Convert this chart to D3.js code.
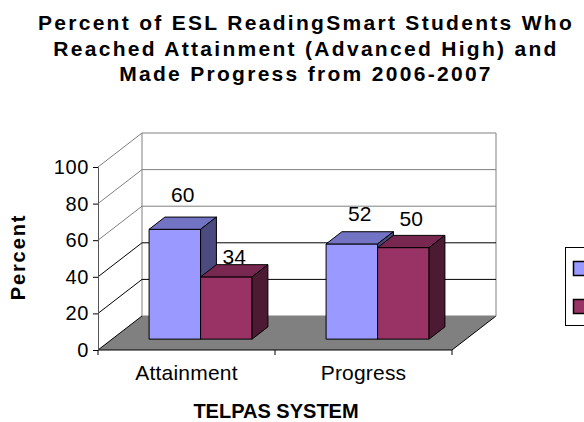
<!DOCTYPE html>
<html lang="en">
<head>
    <meta charset="UTF-8">
    <title>ESL ReadingSmart chart</title>
    <script src="https://d3js.org/d3.v7.min.js"></script>
    <style>
        body { margin: 0; background: #fff; }
        text { font-family: "Liberation Sans", Arial, sans-serif; fill: #000; }
    </style>
</head>
<body>
<div id="chart"></div>
<script>

// data
var categories = ["Attainment", "Progress"];
var seriesNames = ["2006", "2007"];
var blueValues = [60, 52];
var maroonValues = [34, 50];
var yTicks = [0, 20, 40, 60, 80, 100];
var titleLines = [
    "Percent of ESL ReadingSmart Students  Who",
    "Reached Attainment (Advanced High) and",
    "Made Progress from 2006-2007"
];

var width = 584, height = 422;
var depthX = 44, depthY = -34;           // wall depth of the 3d box
var barFront = 0.32, barBack = 0.68;     // where the bars sit in the depth

var svg = d3.select("#chart")
  .append("svg")
    .attr("width", width)
    .attr("height", height);

var y = d3.scaleLinear().domain([0, 100]).range([350, 167]);
var x = d3.scaleBand().domain(categories).range([98, 452]);
var sub = d3.scaleBand().domain([0, 1]).range([37, 140]);

function pt(xf, v, d) {
    return [xf + d * depthX, y(v) + d * depthY];
}
function poly(points) {
    return points.map(function(p) { return p.join(","); }).join(" ");
}

var x0 = x.range()[0], x1 = x.range()[1];

// floor
svg.append("polygon")
    .attr("points", poly([pt(x0, 0, 0), pt(x1, 0, 0), pt(x1, 0, 1), pt(x0, 0, 1)]))
    .attr("fill", "#808080");
svg.append("polyline")
    .attr("points", poly([pt(x0, 0, 0), pt(x1, 0, 0), pt(x1, 0, 1)]))
    .attr("fill", "none").attr("stroke", "#000");

// left wall + back wall outlines
svg.append("polyline")
    .attr("points", poly([pt(x0, 0, 1), pt(x0, 100, 1), pt(x0, 100, 0)]))
    .attr("fill", "none").attr("stroke", "#808080");
svg.append("polyline")
    .attr("points", poly([pt(x0, 100, 1), pt(x1, 100, 1), pt(x1, 0, 1), pt(x0, 0, 1)]))
    .attr("fill", "none").attr("stroke", "#808080");

// gridlines on both walls
var grid = svg.append("g");
yTicks.filter(function(v) { return v > 0 && v < 100; }).forEach(function(v) {
    grid.append("polyline")
        .attr("points", poly([pt(x0, v, 0), pt(x0, v, 1), pt(x1, v, 1)]))
        .attr("fill", "none")
        .attr("stroke", v >= 60 ? "#808080" : "#000");
});
svg.append("line")
    .attr("x1", pt(x0, 0, 0)[0]).attr("y1", pt(x0, 0, 0)[1])
    .attr("x2", pt(x0, 0, 1)[0]).attr("y2", pt(x0, 0, 1)[1])
    .attr("stroke", "#000");

// value axis
var yAxis = svg.append("g")
    .attr("transform", "translate(" + x0 + ",0)")
    .call(d3.axisLeft(y).tickValues(yTicks).tickSize(5).tickPadding(4));
yAxis.select(".domain").attr("stroke", "#555");
yAxis.selectAll(".tick line").attr("stroke", "#000");
yAxis.selectAll("text")
    .style("font-family", "'Liberation Sans', Arial, sans-serif")
    .style("font-size", "20px")
    .style("letter-spacing", "0.6px")
    .attr("fill", "#000");

// category axis ticks + labels
var catTicks = categories.map(function(c) { return x(c); }).concat([x1]);
svg.selectAll(".cattick")
    .data(catTicks)
  .enter().append("line")
    .attr("x1", function(d) { return d; })
    .attr("x2", function(d) { return d; })
    .attr("y1", y(0))
    .attr("y2", y(0) + 5)
    .attr("stroke", "#000");
svg.selectAll(".catlabel")
    .data(categories)
  .enter().append("text")
    .attr("x", function(d) { return x(d) + x.bandwidth() / 2; })
    .attr("y", 380)
    .attr("text-anchor", "middle")
    .style("font-size", "21px")
    .style("letter-spacing", "0.2px")
    .text(function(d) { return d; });

// bars
var series = [
    { values: blueValues, front: "#9999FF", top: "#7373C4", side: "#4B4B80" },
    { values: maroonValues, front: "#993366", top: "#782850", side: "#4C1A33" }
];
var bars = [];
categories.forEach(function(c, ci) {
    series.forEach(function(s, si) {
        bars.push({ cat: c, s: si, value: s.values[ci], col: s,
                    xa: x(c) + sub(si), xb: x(c) + sub(si) + sub.bandwidth() });
    });
});

var barG = svg.selectAll(".bar")
    .data(bars)
  .enter().append("g").attr("class", "bar");

barG.append("polygon")
    .attr("points", function(d) {
        return poly([pt(d.xa, 0, barFront), pt(d.xb, 0, barFront), pt(d.xb, d.value, barFront), pt(d.xa, d.value, barFront)]);
    })
    .attr("fill", function(d) { return d.col.front; })
    .attr("stroke", "#000").attr("stroke-linejoin", "round");
barG.append("polygon")
    .attr("points", function(d) {
        return poly([pt(d.xa, d.value, barFront), pt(d.xb, d.value, barFront), pt(d.xb, d.value, barBack), pt(d.xa, d.value, barBack)]);
    })
    .attr("fill", function(d) { return d.col.top; })
    .attr("stroke", "#000").attr("stroke-linejoin", "round");
barG.append("polygon")
    .attr("points", function(d) {
        return poly([pt(d.xb, 0, barFront), pt(d.xb, 0, barBack), pt(d.xb, d.value, barBack), pt(d.xb, d.value, barFront)]);
    })
    .attr("fill", function(d) { return d.col.side; })
    .attr("stroke", "#000").attr("stroke-linejoin", "round");

// value labels (excel's 3d labels drift upward with the value)
barG.append("text")
    .attr("x", function(d) { return (d.xa + d.xb) / 2 + (barFront + barBack) / 2 * depthX; })
    .attr("y", function(d) { return y(d.value * 1.32) + barFront * depthY + 7.5; })
    .attr("text-anchor", "middle")
    .style("font-size", "21px")
    .text(function(d) { return d.value; });

// title
svg.append("g").selectAll("text")
    .data(titleLines)
  .enter().append("text")
    .attr("x", 306)
    .attr("y", function(d, i) { return 30 + i * 25.7; })
    .attr("text-anchor", "middle")
    .style("font-size", "21px")
    .style("font-weight", "bold")
    .style("letter-spacing", "2.3px")
    .text(function(d) { return d; });

// axis titles
svg.append("text")
    .attr("transform", "translate(25,257) rotate(-90)")
    .attr("text-anchor", "middle")
    .style("font-size", "20px")
    .style("font-weight", "bold")
    .style("letter-spacing", "1.9px")
    .text("Percent");
svg.append("text")
    .attr("x", 276)
    .attr("y", 418)
    .attr("text-anchor", "middle")
    .style("font-size", "20px")
    .style("font-weight", "bold")
    .text("TELPAS SYSTEM");

// legend, cut off at the right edge like the original (its names fall past the edge)
var legend = svg.append("g").attr("transform", "translate(565.5,247.5)");
legend.append("rect")
    .attr("width", 80).attr("height", 78)
    .attr("fill", "#fff").attr("stroke", "#000");
series.forEach(function(s, i) {
    legend.append("rect")
        .attr("x", 8).attr("y", 14 + i * 38)
        .attr("width", 14).attr("height", 14)
        .attr("fill", s.front).attr("stroke", "#000").attr("stroke-width", 1.5)
        .attr("aria-label", seriesNames[i]);
});

</script>
</body>
</html>
